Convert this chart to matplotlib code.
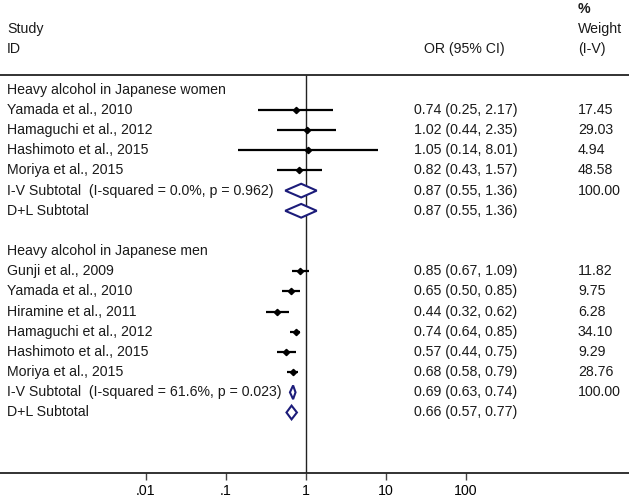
import numpy as np
import matplotlib
matplotlib.use("Agg")
import matplotlib.pyplot as plt
import matplotlib.transforms as mtransforms

plt.rcParams['font.family'] = ['Liberation Sans', 'DejaVu Sans']

# data
women_study = ["Yamada et al., 2010", "Hamaguchi et al., 2012", "Hashimoto et al., 2015", "Moriya et al., 2015"]
women_or = [0.74, 1.02, 1.05, 0.82]
women_lo = [0.25, 0.44, 0.14, 0.43]
women_hi = [2.17, 2.35, 8.01, 1.57]
women_wt = ["17.45", "29.03", "4.94", "48.58"]
women_sub = [[0.87, 0.55, 1.36], [0.87, 0.55, 1.36]]
women_sub_lab = ["I-V Subtotal  (I-squared = 0.0%, p = 0.962)", "D+L Subtotal"]

men_study = ["Gunji et al., 2009", "Yamada et al., 2010", "Hiramine et al., 2011",
             "Hamaguchi et al., 2012", "Hashimoto et al., 2015", "Moriya et al., 2015"]
men_or = [0.85, 0.65, 0.44, 0.74, 0.57, 0.68]
men_lo = [0.67, 0.50, 0.32, 0.64, 0.44, 0.58]
men_hi = [1.09, 0.85, 0.62, 0.85, 0.75, 0.79]
men_wt = ["11.82", "9.75", "6.28", "34.10", "9.29", "28.76"]
men_sub = [[0.69, 0.63, 0.74], [0.66, 0.57, 0.77]]
men_sub_lab = ["I-V Subtotal  (I-squared = 61.6%, p = 0.023)", "D+L Subtotal"]

ticks = [0.01, 0.1, 1, 10, 100]
tick_labels = [".01", ".1", "1", "10", "100"]

fig = plt.figure(figsize=(6.29, 5), dpi=100)
ax = fig.add_axes([0, 27 / 500, 1, 473 / 500])
ax.set_xscale('log')
ax.set_xlim(10 ** -3.825, 10 ** 4.0375)
ax.set_ylim(19, -4.45)

tr = mtransforms.blended_transform_factory(ax.transAxes, ax.transData)
fs = 10.2
navy = '#1c1c7a'
txt = '#1a1a1a'
x_lab = 7 / 629
x_or = 414 / 629
x_wt = 578 / 629

def ci_text(o, l, h):
    return "%.2f (%.2f, %.2f)" % (o, l, h)

# headers
ax.text(x_lab, -3, "Study", transform=tr, fontsize=fs, va='center', color=txt)
ax.text(x_lab, -2, "ID", transform=tr, fontsize=fs, va='center', color=txt)
ax.text(424 / 629, -2, "OR (95% CI)", transform=tr, fontsize=fs, va='center', color=txt)
ax.text(x_wt, -4, "%", transform=tr, fontsize=fs, va='center', fontweight='bold', color=txt)
ax.text(x_wt, -3, "Weight", transform=tr, fontsize=fs, va='center', color=txt)
ax.text(x_wt, -2, "(I-V)", transform=tr, fontsize=fs, va='center', color=txt)

ax.axhline(-0.74, color='#222222', lw=1.3)
ax.vlines(1, -0.74, 19, color='#222222', lw=1.0)

def draw_group(start, title, study, est, lo, hi, wt, sub, sub_lab):
    ax.text(x_lab, start, title, transform=tr, fontsize=fs, va='center', color=txt)
    rows = start + 1 + np.arange(len(study))
    for r, s, o, l, h, w in zip(rows, study, est, lo, hi, wt):
        ax.text(x_lab, r, s, transform=tr, fontsize=fs, va='center', color=txt)
        ax.text(x_or, r, ci_text(o, l, h), transform=tr, fontsize=fs, va='center', color=txt)
        ax.text(x_wt, r, w, transform=tr, fontsize=fs, va='center', color=txt)
    ax.hlines(rows, lo, hi, color='black', lw=1.6)
    ax.plot(est, rows, 'D', color='black', ms=3.2)
    r0 = rows[-1] + 1
    for k, (vals, lab) in enumerate(zip(sub, sub_lab)):
        r = r0 + k
        o, l, h = vals
        ax.fill([l, o, h, o, l], [r, r - 0.34, r, r + 0.34, r],
                facecolor='white', edgecolor=navy, lw=1.5, zorder=3)
        ax.text(x_lab, r, lab, transform=tr, fontsize=fs, va='center', color=txt)
        ax.text(x_or, r, ci_text(o, l, h), transform=tr, fontsize=fs, va='center', color=txt)
        if k == 0:
            ax.text(x_wt, r, "100.00", transform=tr, fontsize=fs, va='center', color=txt)

draw_group(0, "Heavy alcohol in Japanese women", women_study, women_or, women_lo,
           women_hi, women_wt, women_sub, women_sub_lab)
draw_group(8, "Heavy alcohol in Japanese men", men_study, men_or, men_lo,
           men_hi, men_wt, men_sub, men_sub_lab)

for sp in ['top', 'left', 'right']:
    ax.spines[sp].set_visible(False)
ax.spines['bottom'].set_linewidth(1.3)
ax.spines['bottom'].set_color('#222222')
ax.set_yticks([])
ax.set_xticks(ticks)
ax.set_xticklabels(tick_labels)
ax.minorticks_off()
ax.tick_params(axis='x', length=5, width=1, labelsize=fs, pad=3, color='#444444')

fig.savefig("out.png", dpi=100)
